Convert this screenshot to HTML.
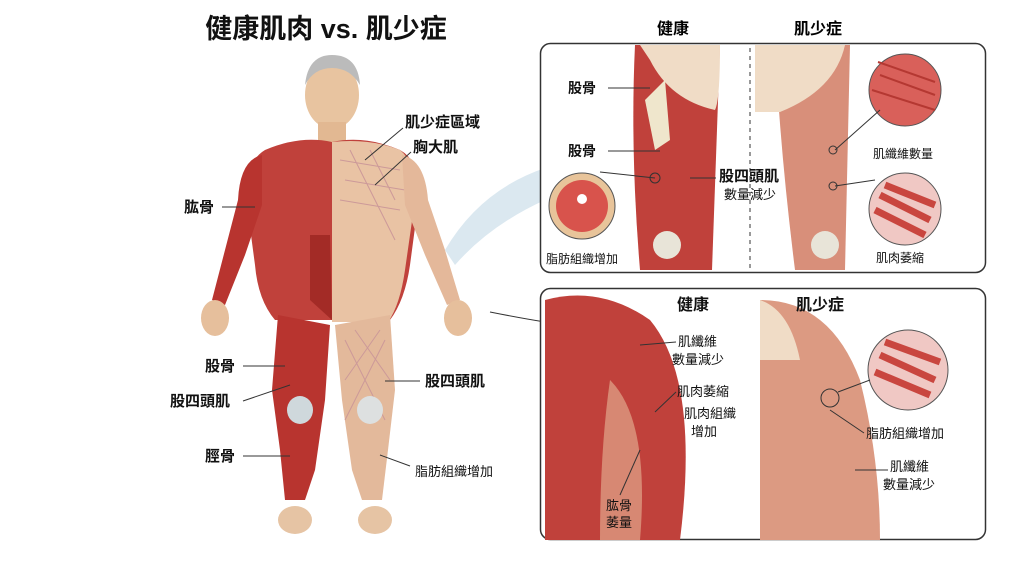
<!DOCTYPE html>
<html><head><meta charset="utf-8"><style>
body{margin:0;background:#fff;width:1024px;height:559px;overflow:hidden;font-family:"Liberation Sans","Noto Sans CJK TC",sans-serif}
svg text{font-family:"Liberation Sans","Noto Sans CJK TC",sans-serif}
</style></head><body>
<svg width="1024" height="559" viewBox="0 0 1024 559" xmlns="http://www.w3.org/2000/svg">
<rect width="1024" height="559" fill="#fff"/>
<text x="326" y="38" font-size="27" font-weight="bold" text-anchor="middle" fill="#111">健康肌肉 vs. 肌少症</text>
<!-- connector band -->
<path d="M445 250 Q480 190 545 168 L545 200 Q490 225 455 265Z" fill="#dbe8f0"/>
<path d="M490 312 Q520 318 545 322" stroke="#333" fill="none"/>
<!-- figure -->
<g>
<ellipse cx="332" cy="95" rx="27" ry="34" fill="#e8c4a0"/>
<path d="M305 85 Q308 55 332 55 Q358 55 360 85 Q350 68 332 68 Q314 68 305 85Z" fill="#bbb"/>
<rect x="318" y="122" width="28" height="22" fill="#e2b892"/>
<path d="M265 150 Q300 135 332 142 Q365 135 400 150 Q418 160 420 190 L410 265 Q405 300 390 320 L275 320 Q258 300 255 265 L245 190 Q248 160 265 150Z" fill="#c0413b"/>
<path d="M332 142 Q370 138 400 150 Q418 165 415 200 L405 270 Q400 305 388 322 L332 322Z" fill="#e9c3a4"/>
<path d="M340 160 L400 170 M345 180 L405 190 M340 200 L400 210 M350 150 L395 240 M370 150 L395 200" stroke="#c99" stroke-width="1" fill="none"/>
<path d="M262 155 Q240 160 238 200 L225 250 L212 300 L225 305 L245 255 L262 205Z" fill="#b8342f"/>
<path d="M402 155 Q425 160 428 200 L445 250 L460 300 L447 305 L425 255 L405 205Z" fill="#e4b89a"/>
<ellipse cx="215" cy="318" rx="14" ry="18" fill="#e6bf9c"/>
<ellipse cx="458" cy="318" rx="14" ry="18" fill="#e6bf9c"/>
<path d="M278 315 L330 325 L325 400 L315 470 L305 500 L285 500 L280 450 L272 390Z" fill="#b8342f"/>
<path d="M335 325 L390 315 L395 390 L388 450 L382 500 L362 500 L352 470 L342 400Z" fill="#e3b99b"/>
<path d="M345 340 L385 420 M385 340 L345 420 M355 330 L390 380 M380 330 L345 380" stroke="#c99" stroke-width="1"/>
<ellipse cx="300" cy="410" rx="13" ry="14" fill="#cfd8dc"/>
<ellipse cx="370" cy="410" rx="13" ry="14" fill="#dde0e0"/>
<ellipse cx="295" cy="520" rx="17" ry="14" fill="#e6c4a4"/>
<ellipse cx="375" cy="520" rx="17" ry="14" fill="#e6c4a4"/>
<path d="M310 235 L330 235 L332 320 L310 300Z" fill="#a32b26"/>
</g>
<g font-size="15" fill="#111" font-weight="bold">
<text x="405" y="127">肌少症區域</text>
<line x1="403" y1="128" x2="365" y2="160" stroke="#333"/>
<text x="413" y="152">胸大肌</text>
<line x1="411" y1="152" x2="375" y2="185" stroke="#333"/>
<text x="184" y="212">肱骨</text><line x1="222" y1="207" x2="255" y2="207" stroke="#333"/>
<text x="205" y="371">股骨</text><line x1="243" y1="366" x2="285" y2="366" stroke="#333"/>
<text x="170" y="406">股四頭肌</text><line x1="243" y1="401" x2="290" y2="385" stroke="#333"/>
<text x="205" y="461">脛骨</text><line x1="243" y1="456" x2="290" y2="456" stroke="#333"/>
<text x="425" y="386">股四頭肌</text><line x1="420" y1="381" x2="385" y2="381" stroke="#333"/>
<text x="415" y="476" font-size="13" font-weight="normal">脂肪組織增加</text><line x1="410" y1="466" x2="380" y2="455" stroke="#333"/>
</g>
<!-- top panel -->
<text x="673" y="34" font-size="16" font-weight="bold" text-anchor="middle">健康</text>
<text x="818" y="34" font-size="16" font-weight="bold" text-anchor="middle">肌少症</text>
<rect x="540.5" y="43.5" width="445" height="229" rx="10" fill="#fff" stroke="#333" stroke-width="1.5"/>
<line x1="750" y1="48" x2="750" y2="268" stroke="#333" stroke-dasharray="4,4"/>
<path d="M635 45 L720 45 L712 270 L640 270 Q630 150 635 45Z" fill="#c0413b"/>
<path d="M640 45 L720 45 Q720 100 715 110 Q670 100 650 60Z" fill="#f0dcc6"/>
<path d="M645 100 L665 80 L670 140 L655 150Z" fill="#efe6cc"/>
<ellipse cx="667" cy="245" rx="14" ry="14" fill="#e8e4d8"/>
<path d="M775 45 L850 45 L845 270 L795 270 Q780 150 775 45Z" fill="#d88f7a"/>
<path d="M755 45 L845 45 Q835 90 780 112 L755 112Z" fill="#f0dcc6"/>
<ellipse cx="825" cy="245" rx="14" ry="14" fill="#e8e4d8"/>
<circle cx="582" cy="206" r="33" fill="#e8c49a" stroke="#555"/>
<circle cx="582" cy="206" r="26" fill="#d8534c"/>
<circle cx="582" cy="199" r="5" fill="#fff"/>
<circle cx="905" cy="90" r="36" fill="#d9605a" stroke="#555"/>
<circle cx="905" cy="209" r="36" fill="#f0c8c4" stroke="#555"/>
<path d="M880 195 L930 220 M875 210 L925 235 M885 185 L935 205" stroke="#c9463f" stroke-width="7"/>
<path d="M880 75 L935 95 M872 90 L935 110 M878 62 L935 82" stroke="#b53832" stroke-width="2"/>
<g font-size="14" font-weight="bold" fill="#111">
<text x="568" y="93">股骨</text><line x1="608" y1="88" x2="650" y2="88" stroke="#333"/>
<text x="568" y="156">股骨</text><line x1="608" y1="151" x2="660" y2="151" stroke="#333"/>
<text x="719" y="181" font-size="15">股四頭肌</text><text x="724" y="199" font-size="13" font-weight="normal">數量減少</text>
<line x1="716" y1="178" x2="690" y2="178" stroke="#333"/>
<text x="546" y="263" font-size="12" font-weight="normal">脂肪組織增加</text>
<text x="873" y="158" font-size="12" font-weight="normal">肌纖維數量</text>
<text x="876" y="262" font-size="12" font-weight="normal">肌肉萎縮</text>
</g>
<line x1="600" y1="172" x2="655" y2="178" stroke="#333"/><circle cx="655" cy="178" r="5" fill="none" stroke="#333"/>
<line x1="835" y1="150" x2="880" y2="110" stroke="#333"/><circle cx="833" cy="150" r="4" fill="none" stroke="#333"/>
<line x1="835" y1="186" x2="875" y2="180" stroke="#333"/><circle cx="833" cy="186" r="4" fill="none" stroke="#333"/>
<!-- bottom panel -->
<rect x="540.5" y="288.5" width="445" height="251" rx="10" fill="#fff" stroke="#333" stroke-width="1.5"/>
<path d="M545 300 Q600 285 650 320 Q700 380 680 540 L545 540Z" fill="#c0413b"/>
<path d="M610 380 Q650 420 640 540 L600 540 Q600 450 610 380Z" fill="#e6b89a" opacity=".6"/>
<path d="M760 300 Q830 300 860 380 Q880 460 880 540 L760 540Z" fill="#dc9a82"/>
<path d="M760 300 Q790 310 800 360 L760 360Z" fill="#f0dcc6"/>
<circle cx="908" cy="370" r="40" fill="#f0c8c4" stroke="#555"/>
<path d="M880 355 L935 380 M875 372 L930 395 M885 342 L940 362" stroke="#c9463f" stroke-width="7"/>
<circle cx="830" cy="398" r="9" fill="none" stroke="#333"/>
<line x1="838" y1="392" x2="870" y2="380" stroke="#333"/>
<g font-size="13" fill="#111">
<text x="693" y="310" font-size="16" font-weight="bold" text-anchor="middle">健康</text>
<text x="820" y="310" font-size="16" font-weight="bold" text-anchor="middle">肌少症</text>
<text x="678" y="346">肌纖維</text><text x="672" y="364">數量減少</text>
<text x="677" y="396">肌肉萎縮</text>
<text x="684" y="418">肌肉組織</text><text x="691" y="436">增加</text>
<text x="606" y="510">肱骨</text><text x="606" y="527">萎量</text>
<text x="866" y="438">脂肪組織增加</text>
<text x="890" y="471">肌纖維</text><text x="883" y="489">數量減少</text>
</g>
<line x1="676" y1="342" x2="640" y2="345" stroke="#333"/>
<line x1="676" y1="392" x2="655" y2="412" stroke="#333"/>
<line x1="620" y1="495" x2="640" y2="450" stroke="#333"/>
<line x1="864" y1="433" x2="830" y2="410" stroke="#333"/>
<line x1="888" y1="470" x2="855" y2="470" stroke="#333"/>
</svg>
</body></html>
